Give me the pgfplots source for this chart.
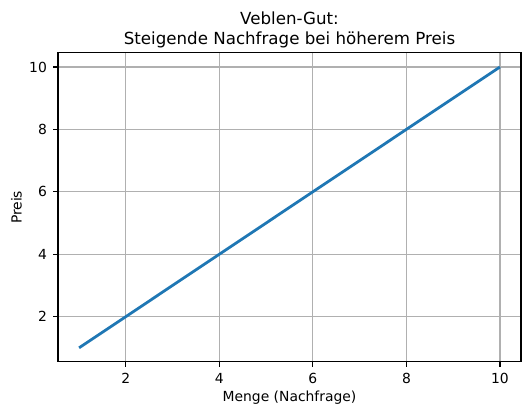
\documentclass[border=0pt]{standalone}
\usepackage{pgfplots}
\pgfplotsset{compat=1.18}
\usepackage{fontspec}
\setmainfont{DejaVu Sans}
\definecolor{mplblue}{HTML}{1F77B4}
\definecolor{mplgrid}{HTML}{B0B0B0}
\begin{document}
\begin{tikzpicture}[x=1pt,y=1pt]
\useasboundingbox (-41.8,-37.4) rectangle (340.6,260.6);
\begin{axis}[
  at={(0,0)}, anchor=south west,
  scale only axis,
  width=333.4pt, height=222.5pt,
  xmin=0.55, xmax=10.45, ymin=0.55, ymax=10.45,
  xtick={2,4,6,8,10}, ytick={2,4,6,8,10},
  grid=major,
  major grid style={mplgrid, line width=0.8pt},
  axis line style={black, line width=0.8pt},
  tick style={black, line width=0.8pt},
  tick align=outside, major tick length=3.5pt,
  xtick pos=bottom, ytick pos=left,
  /pgf/number format/assume math mode=true,
  ticklabel style={font=\fontsize{10}{12}\selectfont},
  xticklabel style={yshift=-1pt},
  yticklabel style={xshift=-1pt},
  xlabel={Menge (Nachfrage)}, ylabel={Preis},
  label style={font=\fontsize{10}{12}\selectfont},
  xlabel style={at={(axis description cs:0.5,0)}, anchor=center, yshift=-25.5pt},
  ylabel style={at={(axis description cs:0,0.5)}, anchor=center, yshift=30pt},
  every axis title shift=0pt,
  title={Veblen-Gut:\\Steigende Nachfrage bei höherem Preis},
  title style={font=\fontsize{12}{14.4}\selectfont, align=center, at={(axis description cs:0.5,1)}, anchor=south, inner sep=0pt, yshift=3.5pt},
]
\addplot[mplblue, line width=2pt] coordinates {(1,1) (2,2) (3,3) (4,4) (5,5) (6,6) (7,7) (8,8) (9,9) (10,10)};
\end{axis}
\end{tikzpicture}
\end{document}
